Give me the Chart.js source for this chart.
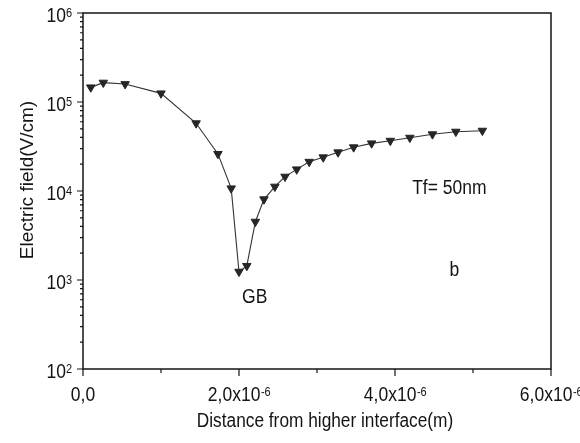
<!DOCTYPE html>
<html>
<head>
<meta charset="utf-8">
<script src="https://cdn.jsdelivr.net/npm/chart.js@4/dist/chart.umd.min.js"></script>
<style>
  html, body { margin: 0; padding: 0; background: #ffffff; }
  #wrap { width: 580px; height: 443px; }
</style>
</head>
<body>
<div id="wrap"><canvas id="chart" width="580" height="443"></canvas></div>
<script>
// Distance from the higher interface (m)
const distance = [
  0.10e-6, 0.26e-6, 0.54e-6, 1.00e-6, 1.45e-6, 1.73e-6, 1.90e-6, 2.00e-6,
  2.10e-6, 2.21e-6, 2.32e-6, 2.46e-6, 2.59e-6, 2.74e-6, 2.90e-6, 3.08e-6,
  3.27e-6, 3.47e-6, 3.70e-6, 3.94e-6, 4.19e-6, 4.48e-6, 4.78e-6, 5.12e-6
];
// Electric field (V/cm)
const field = [
  1.46e5, 1.65e5, 1.59e5, 1.25e5, 5.77e4, 2.61e4, 1.07e4, 1.24e3,
  1.44e3, 4.52e3, 8.07e3, 1.12e4, 1.45e4, 1.75e4, 2.13e4, 2.39e4,
  2.72e4, 3.10e4, 3.43e4, 3.67e4, 3.97e4, 4.34e4, 4.64e4, 4.76e4
];

// Axis ticks
const xMajorTicks = [0, 2e-6, 4e-6, 6e-6];
const xMajorLabels = ["0,0", "2,0x10", "4,0x10", "6,0x10"];
const xMajorExponents = ["", "-6", "-6", "-6"];
const xMinorTicks = [1e-6, 3e-6, 5e-6];
const yDecades = [2, 3, 4, 5, 6];

// Text drawn inside the plot
const annotations = [
  { text: "Tf= 50nm", x: 4.22e-6, y: 9.2e3 },
  { text: "b", x: 4.70e-6, y: 1.1e3 },
  { text: "GB", x: 2.04e-6, y: 5.5e2 }
];

const FONT = "'Liberation Sans', Arial, Helvetica, sans-serif";
const INK = "#141414";
const STRETCH = 1.12;

function stretchedText(ctx, str, x, y, size, align) {
  ctx.save();
  ctx.font = size + "px " + FONT;
  ctx.textAlign = align || "left";
  ctx.textBaseline = "alphabetic";
  ctx.translate(x, y);
  ctx.scale(1, STRETCH);
  ctx.fillText(str, 0, 0);
  ctx.restore();
}

function textWidth(ctx, str, size) {
  ctx.save();
  ctx.font = size + "px " + FONT;
  const w = ctx.measureText(str).width;
  ctx.restore();
  return w;
}

const axesPlugin = {
  id: "axesFrame",
  beforeDatasetsDraw(chart) {
    const ctx = chart.ctx;
    const a = chart.chartArea;
    const xs = chart.scales.x;
    const ys = chart.scales.y;
    ctx.save();
    ctx.strokeStyle = INK;
    ctx.lineWidth = 1.5;
    ctx.strokeRect(a.left, a.top, a.right - a.left, a.bottom - a.top);

    ctx.lineWidth = 1.2;
    ctx.beginPath();
    // y ticks, outward
    yDecades.forEach((d, i) => {
      const py = ys.getPixelForValue(Math.pow(10, d));
      ctx.moveTo(a.left - 6, py); ctx.lineTo(a.left, py);
      if (i < yDecades.length - 1) {
        for (let k = 2; k <= 9; k++) {
          const my = ys.getPixelForValue(k * Math.pow(10, d));
          ctx.moveTo(a.left - 3, my); ctx.lineTo(a.left, my);
        }
      }
    });
    // x ticks, outward
    xMajorTicks.forEach(v => {
      const px = xs.getPixelForValue(v);
      ctx.moveTo(px, a.bottom); ctx.lineTo(px, a.bottom + 7);
    });
    xMinorTicks.forEach(v => {
      const px = xs.getPixelForValue(v);
      ctx.moveTo(px, a.bottom); ctx.lineTo(px, a.bottom + 4);
    });
    ctx.stroke();
    ctx.restore();
  },
  afterDraw(chart) {
    const ctx = chart.ctx;
    const a = chart.chartArea;
    const xs = chart.scales.x;
    const ys = chart.scales.y;
    ctx.save();
    ctx.fillStyle = INK;

    // y tick labels: 10^n
    yDecades.forEach(d => {
      const py = ys.getPixelForValue(Math.pow(10, d));
      const exp = String(d);
      const wMain = textWidth(ctx, "10", 17.5);
      const wExp = textWidth(ctx, exp, 11);
      const right = a.left - 11;
      const start = right - wMain - wExp;
      stretchedText(ctx, "10", start, py + 8.5, 17.5, "left");
      stretchedText(ctx, exp, start + wMain, py + 4.2, 11, "left");
    });

    // x tick labels
    xMajorTicks.forEach((v, i) => {
      const px = xs.getPixelForValue(v);
      const main = xMajorLabels[i];
      const exp = xMajorExponents[i];
      const wMain = textWidth(ctx, main, 17.5);
      const wExp = exp ? textWidth(ctx, exp, 11) : 0;
      const start = px - (wMain + wExp) / 2;
      stretchedText(ctx, main, start, a.bottom + 32, 17.5, "left");
      if (exp) stretchedText(ctx, exp, start + wMain + 0.5, a.bottom + 27, 11, "left");
    });

    // axis titles
    stretchedText(ctx, "Distance from higher interface(m)", (a.left + a.right) / 2 + 8, a.bottom + 58, 17.3, "center");
    ctx.save();
    ctx.translate(33, (a.top + a.bottom) / 2 - 11);
    ctx.rotate(-Math.PI / 2);
    ctx.font = "19px " + FONT;
    ctx.textAlign = "center";
    ctx.textBaseline = "alphabetic";
    ctx.fillText("Electric field(V/cm)", 0, 0);
    ctx.restore();

    // annotations inside the plot
    annotations.forEach(t => {
      const px = xs.getPixelForValue(t.x);
      const py = ys.getPixelForValue(t.y);
      stretchedText(ctx, t.text, px, py, 17.5, "left");
    });
    ctx.restore();
  }
};

new Chart(document.getElementById("chart"), {
  type: "scatter",
  data: {
    datasets: [{
      data: distance.map((x, i) => ({ x: x, y: field[i] })),
      showLine: true,
      borderColor: "#333333",
      borderWidth: 1.1,
      pointStyle: "triangle",
      rotation: 180,
      pointRadius: 4.9,
      pointHoverRadius: 4.9,
      pointBackgroundColor: "#262626",
      pointBorderColor: "#262626",
      pointBorderWidth: 1,
      tension: 0
    }]
  },
  options: {
    responsive: false,
    animation: false,
    events: [],
    layout: { padding: { left: 83, right: 29, top: 13, bottom: 74 } },
    plugins: {
      legend: { display: false },
      tooltip: { enabled: false }
    },
    scales: {
      x: { type: "linear", min: 0, max: 6e-6, display: false },
      y: { type: "logarithmic", min: 100, max: 1e6, display: false }
    }
  },
  plugins: [axesPlugin]
});
</script>
</body>
</html>
